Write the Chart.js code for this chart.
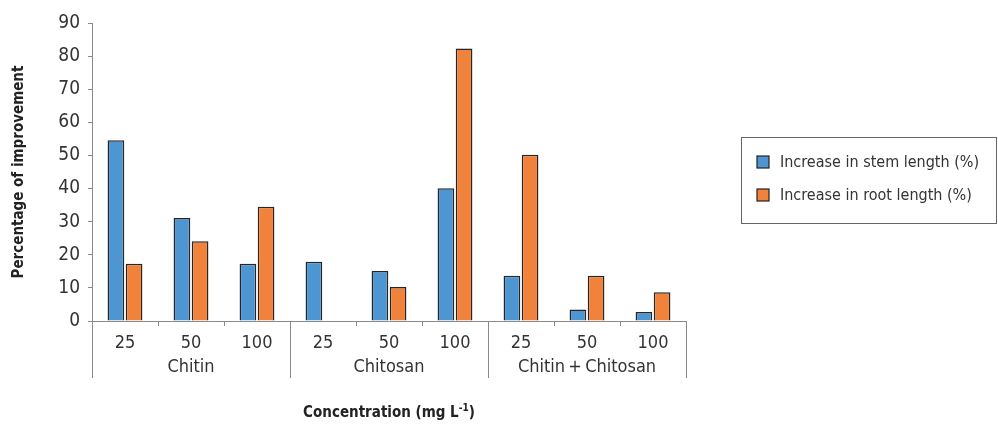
<!DOCTYPE html>
<html>
<head>
<meta charset="utf-8">
<script src="https://cdn.jsdelivr.net/npm/chart.js@4.4.0/dist/chart.umd.min.js"></script>
<style>
  html, body { margin: 0; padding: 0; background: #fff; }
  #wrap { width: 998px; height: 427px; }
</style>
</head>
<body>
<div id="wrap"><canvas id="miGrafico"></canvas></div>
<script>
const concentrations = ['25', '50', '100', '25', '50', '100', '25', '50', '100'];
const groups = ['Chitin', 'Chitosan', 'Chitin\u2009+\u2009Chitosan'];
const stemIncrease = [54.6, 31.1, 17.3, 17.9, 15.1, 40.1, 13.7, 3.5, 2.7];
const rootIncrease = [17.3, 24.1, 34.5, 0, 10.3, 82.3, 50.2, 13.7, 8.7];
const yMin = 0, yMax = 90, yStep = 10;

const FONT = "'Liberation Sans Narrow', 'Arial Narrow', 'DejaVu Sans Condensed', sans-serif";
const TEXT = '#333';
const AXIS = '#8a8a8a';

// group separators, group names, x title and the boxed legend
const extras = {
    id: 'extras',
    afterDraw(chart) {
        const { ctx, chartArea } = chart;
        const x = chart.scales.x;
        ctx.save();

        ctx.strokeStyle = AXIS;
        ctx.lineWidth = 1;
        for (let g = 0; g <= groups.length; g++) {
            const px = Math.round(x.getPixelForValue(g * 3 - 0.5)) + 0.5;
            ctx.beginPath();
            ctx.moveTo(px, chartArea.bottom);
            ctx.lineTo(px, chartArea.bottom + 57);
            ctx.stroke();
        }

        ctx.fillStyle = TEXT;
        ctx.font = '18px ' + FONT;
        ctx.textAlign = 'center';
        ctx.textBaseline = 'middle';
        groups.forEach((name, g) => {
            ctx.fillText(name, x.getPixelForValue(g * 3 + 1), chartArea.bottom + 46);
        });

        // x title with superscript
        const cx = (chartArea.left + chartArea.right) / 2;
        const ty = chartArea.bottom + 92;
        const main = 'Concentration (mg L';
        const sup = '-1';
        const end = ')';
        ctx.fillStyle = '#222';
        ctx.font = 'bold 15px ' + FONT;
        const wMain = ctx.measureText(main).width;
        const wEnd = ctx.measureText(end).width;
        ctx.font = 'bold 10px ' + FONT;
        const wSup = ctx.measureText(sup).width;
        let sx = cx - (wMain + wSup + wEnd) / 2;
        ctx.textAlign = 'left';
        ctx.font = 'bold 15px ' + FONT;
        ctx.fillText(main, sx, ty);
        sx += wMain;
        ctx.font = 'bold 10px ' + FONT;
        ctx.fillText(sup, sx, ty - 5);
        sx += wSup;
        ctx.font = 'bold 15px ' + FONT;
        ctx.fillText(end, sx, ty);

        // legend
        const lx = 741, ly = 137, lw = 255, lh = 86;
        ctx.strokeStyle = '#666';
        ctx.lineWidth = 1;
        ctx.strokeRect(lx + 0.5, ly + 0.5, lw, lh);
        ctx.font = '16px ' + FONT;
        chart.data.datasets.forEach((ds, i) => {
            const rowY = ly + 25 + i * 33;
            ctx.fillStyle = ds.backgroundColor;
            ctx.fillRect(lx + 16, rowY - 6, 12, 12);
            ctx.strokeStyle = '#222';
            ctx.lineWidth = 1.2;
            ctx.strokeRect(lx + 16, rowY - 6, 12, 12);
            ctx.fillStyle = TEXT;
            ctx.fillText(ds.label, lx + 39, rowY + 1);
        });

        ctx.restore();
    }
};

new Chart(document.getElementById('miGrafico'), {
    type: 'bar',
    data: {
        labels: concentrations,
        datasets: [
            {
                label: 'Increase in stem length (%)',
                data: stemIncrease,
                backgroundColor: '#4E96D2',
                borderColor: '#262626',
                borderWidth: 1.5,
                categoryPercentage: 0.55,
                barPercentage: 0.92
            },
            {
                label: 'Increase in root length (%)',
                data: rootIncrease,
                backgroundColor: '#F0823B',
                borderColor: '#262626',
                borderWidth: 1.5,
                categoryPercentage: 0.55,
                barPercentage: 0.92
            }
        ]
    },
    options: {
        responsive: true,
        maintainAspectRatio: false,
        animation: false,
        layout: { padding: { top: 23, right: 312, left: 0, bottom: 0 } },
        plugins: {
            legend: { display: false },
            tooltip: { enabled: false }
        },
        scales: {
            x: {
                afterFit: (s) => { s.height = 106; },
                grid: { offset: true, drawOnChartArea: false, drawTicks: true, tickLength: 5, color: AXIS },
                border: { color: AXIS, width: 1 },
                ticks: { color: TEXT, padding: 7, font: { family: FONT, size: 18 } }
            },
            y: {
                min: yMin,
                max: yMax,
                afterFit: (s) => { s.width = 92; },
                grid: { drawOnChartArea: false, drawTicks: true, tickLength: 4, color: AXIS },
                border: { color: AXIS, width: 1 },
                ticks: { stepSize: yStep, color: TEXT, padding: 8, font: { family: FONT, size: 19 } },
                title: {
                    display: true,
                    text: 'Percentage of improvement',
                    color: '#222',
                    padding: { top: 10, bottom: 0 },
                    font: { family: FONT, size: 15, weight: 'bold' }
                }
            }
        }
    },
    plugins: [extras]
});
</script>
</body>
</html>
